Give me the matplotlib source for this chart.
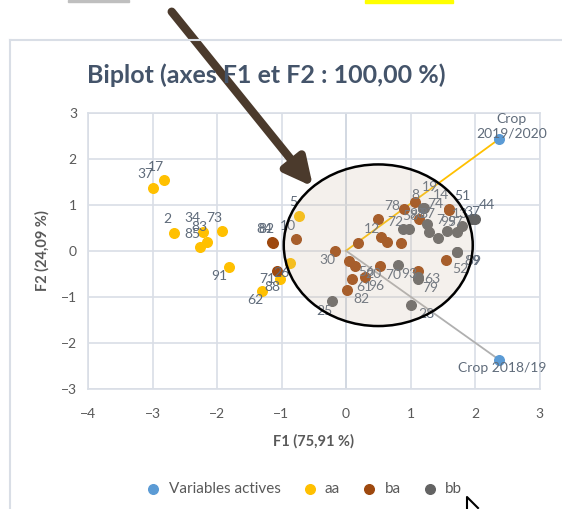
import matplotlib
matplotlib.use('Agg')
import matplotlib.pyplot as plt
from matplotlib.patches import Ellipse, Rectangle
from matplotlib.lines import Line2D

plt.rcParams['font.family'] = ['Lato', 'DejaVu Sans']

# observations, group aa
aa_lab = ['17', '37', '2', '34', '83', '85', '73', '91', '62', '88', '26', '5']
aa_x = [-2.82, -2.99, -2.67, -2.22, -2.15, -2.26, -1.93, -1.82, -1.30, -1.02, -0.87, -0.73]
aa_y = [1.53, 1.37, 0.38, 0.40, 0.19, 0.09, 0.42, -0.35, -0.87, -0.62, -0.27, 0.75]

# group ba
ba_lab = ['84', '82', '71', '10', '30', '', '', '12', '', '', '78', '8', '98', '14', '51',
          '52', '56', '20', '', '93', '61', '96', '82']
ba_x = [-1.14, -1.13, -1.07, -0.78, -0.17, 0.18, 0.50, 0.54, 0.63, 0.86, 0.90, 1.07, 1.13, 1.59, 1.60,
        1.55, 0.04, 0.14, 0.52, 1.12, 0.09, 0.29, 0.01]
ba_y = [0.18, 0.16, -0.44, 0.26, 0.00, 0.16, 0.69, 0.29, 0.19, 0.16, 0.90, 1.07, 0.69, 0.89, 0.90,
        -0.20, -0.22, -0.33, -0.34, -0.45, -0.61, -0.58, -0.85]

# group bb
bb_lab = ['19', '74', '72', '58', '87', '7', '', '95', '97', '13', '37', '44', '89', '59',
          '70', '79', '63', '28', '25']
bb_x = [1.20, 1.21, 0.89, 0.97, 1.25, 1.28, 1.42, 1.57, 1.72, 1.80, 1.95, 2.00, 1.72, 1.72,
        0.81, 1.11, 1.11, 1.00, -0.21]
bb_y = [0.94, 0.93, 0.47, 0.48, 0.58, 0.40, 0.27, 0.43, 0.41, 0.53, 0.69, 0.70, -0.03, -0.03,
        -0.32, -0.62, -0.58, -1.19, -1.09]

# active variables
var_lab = ['Crop\n2019/2020', 'Crop 2018/19']
var_x = [2.37, 2.37]
var_y = [2.43, -2.37]

# label offsets in pixels (dx, dy up)
aa_off = [(-8, 13), (-8, 14), (-6, 14), (-10, 14), (-8, 15), (-8, 13), (-7, 13), (-9, -9),
          (-7, -9), (-8, -8), (-8, -10), (-6, 14)]
ba_off = [(-8, 13), (-7, 14), (-10, -8), (-8, 13), (-8, -9), (0, 0), (0, 0), (-9, 8), (0, 0), (0, 0),
          (-12, 3), (0, 7), (-2, 5), (-8, 15), (13, 13), (14, -9), (18, -11), (18, -8), (0, 0),
          (-9, -3), (13, -8), (12, -9), (15, -9)]
bb_off = [(7, 21), (11, 4), (-8, 7), (2, 13), (1, 10), (12, 12), (0, 0), (1, 9), (-2, 10), (-2, 12),
          (1, 7), (12, 14), (15, -9), (16, -9), (-5, -10), (13, -9), (15, -2), (16, -9), (-8, -10)]
var_off = [(13, 13), (3, -8)]

c_var, c_aa, c_ba, c_bb = '#5B9BD5', '#FFC000', '#9E480E', '#636363'
txt = '#5F6B7A'
grid = '#D9DEE6'

fig = plt.figure(figsize=(5.62, 5.09), dpi=100)
ax = fig.add_axes([88/562, 1-388.5/509, (539.5-88)/562, (388.5-113)/509])

ax.set_xlim(-4, 3)
ax.set_ylim(-3, 3)
ax.set_xticks(range(-4, 4))
ax.set_yticks(range(-3, 4))
ax.grid(True, color=grid, lw=1.2, zorder=0)
ax.axvline(0, color='#B4C0D0', lw=1.3, zorder=1)
for s in ax.spines.values():
    s.set_color(grid)
    s.set_linewidth(1.2)
ax.tick_params(length=0, labelsize=10, labelcolor='#595959', pad=8)
ax.tick_params(axis='x', pad=14)

# vectors of active variables
ax.plot([0, var_x[0]], [0, var_y[0]], color=c_aa, lw=1.3, zorder=2)
ax.plot([0, var_x[1]], [0, var_y[1]], color='#B0B0B0', lw=1.3, zorder=2)

ms = 48
ax.scatter(var_x, var_y, s=ms, color=c_var, zorder=3, label='Variables actives')
ax.scatter(aa_x, aa_y, s=ms, color=c_aa, zorder=3, label='aa')
ax.scatter(ba_x, ba_y, s=ms, color=c_ba, zorder=3, label='ba')
ax.scatter(bb_x, bb_y, s=ms, color=c_bb, zorder=3, label='bb')

for labs, xs, ys, offs in [(aa_lab, aa_x, aa_y, aa_off), (ba_lab, ba_x, ba_y, ba_off),
                           (bb_lab, bb_x, bb_y, bb_off), (var_lab, var_x, var_y, var_off)]:
    for l, x, y, o in zip(labs, xs, ys, offs):
        if l:
            ax.annotate(l, (x, y), xytext=o, textcoords='offset pixels', ha='center', va='center',
                        fontsize=10, color=txt, zorder=4, linespacing=1.3)

# highlight ellipse
ax.add_patch(Ellipse((0.50, 0.12), 2.93, 3.52, facecolor=(0.80, 0.72, 0.64, 0.2),
                     edgecolor='black', lw=1.8, zorder=5))

ax.set_xlabel('F1 (75,91 %)', fontsize=10.5, fontweight='bold', color='#595959', labelpad=10)
ax.set_ylabel('F2 (24,09 %)', fontsize=10.5, fontweight='bold', color='#595959', labelpad=8)

fig.text(266/562, 1-75/509, 'Biplot (axes F1 et F2 : 100,00 %)', ha='center', va='center',
         fontsize=18, fontweight='bold', color='#44546A')

fig.legend(loc='center', bbox_to_anchor=(300/562, 1-489/509), ncol=4, frameon=False,
           fontsize=11, labelcolor='#595959', handletextpad=0.0, columnspacing=0.9,
           markerscale=1.0)

# screenshot frame and marks
fig.add_artist(Line2D([10/562, 1], [1-40/509]*2, color=grid, lw=1.5))
fig.add_artist(Line2D([10/562]*2, [0, 1-40/509], color=grid, lw=1.5))
fig.add_artist(Rectangle((68/562, 1-2/509), 61/562, 2/509, color='#BFBFBF'))
fig.add_artist(Rectangle((365/562, 1-3/509), 88/562, 3/509, color='#FFFF00'))

# hand-drawn arrow
ax.annotate('', xy=(313, 509-186.7), xycoords='figure pixels',
            xytext=(171.7, 509-11.7), textcoords='figure pixels',
            arrowprops=dict(arrowstyle='-|>,head_width=0.55,head_length=1.1', lw=6,
                            color='#4B3A2C', mutation_scale=15, shrinkA=0, shrinkB=0),
            zorder=10, annotation_clip=False)

# mouse pointer
fig.add_artist(Line2D([467/562, 467/562, 478/562], [0, 1-497/509, 1-508/509], color='black', lw=1.5))

fig.savefig('out.png', dpi=100)
